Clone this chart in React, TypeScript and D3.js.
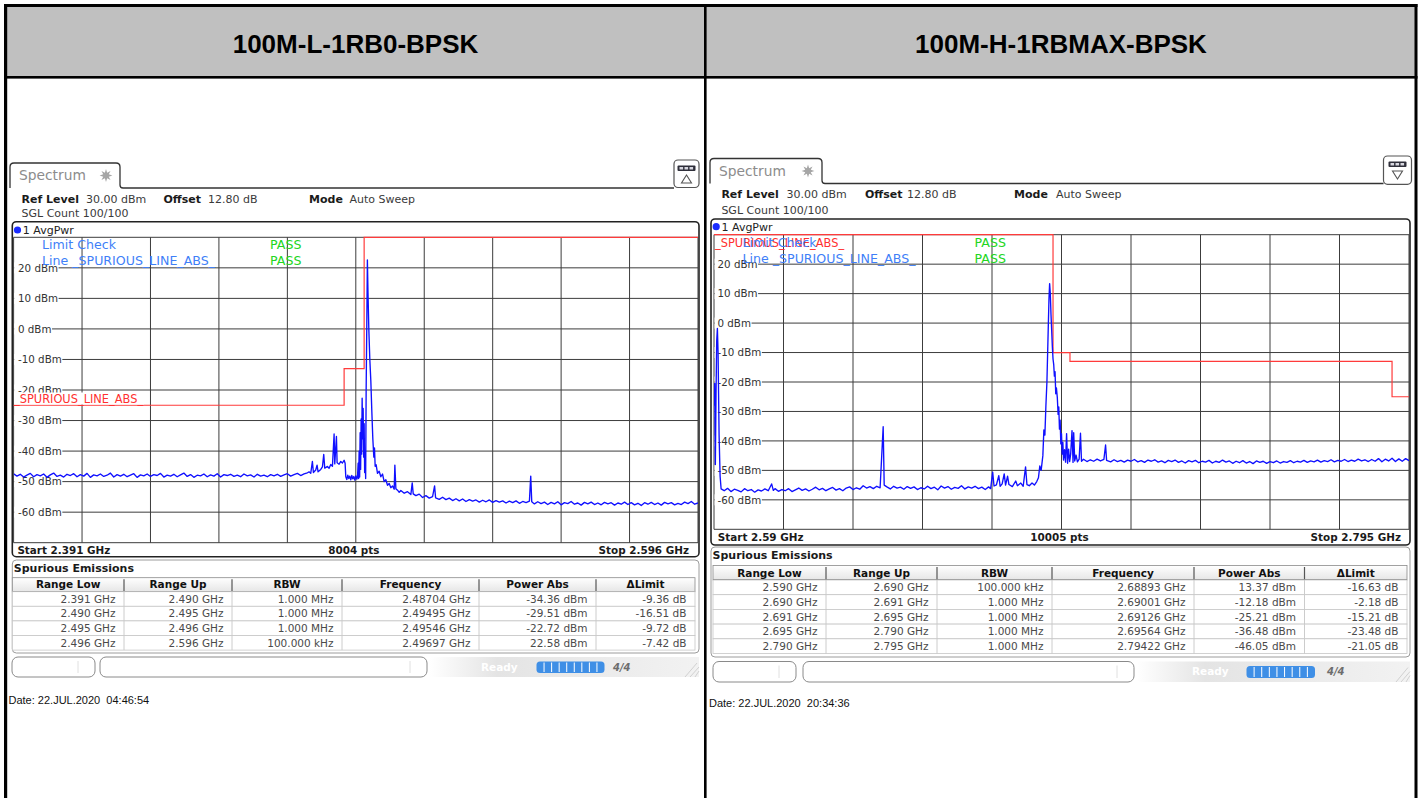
import React from 'react';
import * as d3 from 'd3';

// ------------------------------------------------------------------ data
const TITLES = ['100M-L-1RB0-BPSK', '100M-H-1RBMAX-BPSK'];
const Y_TICK_LABELS = [20, 10, 0, -10, -20, -30, -40, -50, -60];
const Y_RANGE = [-70, 30];
const TABLE_HEADERS = ['Range Low', 'Range Up', 'RBW', 'Frequency', 'Power Abs', '\u0394Limit'];
const SETTINGS = ['Ref Level', '30.00 dBm', 'Offset', '12.80 dB', 'Mode', 'Auto Sweep'];
const SGL_TEXT = 'SGL Count 100/100';
const TRACE_NAME = '1 AvgPwr';
const LIMIT_NAME = '_SPURIOUS_LINE_ABS_';
const LEGEND = ['Limit Check', 'Line _SPURIOUS_LINE_ABS_'];
const LEGEND_RESULT = ['PASS', 'PASS'];

const LEFT_SPAN_MHZ = [2391, 2596];
const RIGHT_SPAN_MHZ = [2590, 2795];
const LEFT_FOOTER = ['Start 2.391 GHz', '8004 pts', 'Stop 2.596 GHz'];
const RIGHT_FOOTER = ['Start 2.59 GHz', '10005 pts', 'Stop 2.795 GHz'];
const LEFT_DATE = 'Date: 22.JUL.2020  04:46:54';
const RIGHT_DATE = 'Date: 22.JUL.2020  20:34:36';

// limit lines [MHz, dBm]
const LEFT_LIMIT = [[2391, -25], [2490, -25], [2490, -13], [2496, -13], [2496, 30], [2596, 30]];
const RIGHT_LIMIT = [[2590, 30], [2690, 30], [2690, -10], [2695, -10], [2695, -13], [2790, -13], [2790, -25], [2795, -25]];

const LEFT_ROWS = [
  ['2.391 GHz', '2.490 GHz', '1.000 MHz', '2.48704 GHz', '-34.36 dBm', '-9.36 dB'],
  ['2.490 GHz', '2.495 GHz', '1.000 MHz', '2.49495 GHz', '-29.51 dBm', '-16.51 dB'],
  ['2.495 GHz', '2.496 GHz', '1.000 MHz', '2.49546 GHz', '-22.72 dBm', '-9.72 dB'],
  ['2.496 GHz', '2.596 GHz', '100.000 kHz', '2.49697 GHz', '22.58 dBm', '-7.42 dB'],
];
const RIGHT_ROWS = [
  ['2.590 GHz', '2.690 GHz', '100.000 kHz', '2.68893 GHz', '13.37 dBm', '-16.63 dB'],
  ['2.690 GHz', '2.691 GHz', '1.000 MHz', '2.69001 GHz', '-12.18 dBm', '-2.18 dB'],
  ['2.691 GHz', '2.695 GHz', '1.000 MHz', '2.69126 GHz', '-25.21 dBm', '-15.21 dB'],
  ['2.695 GHz', '2.790 GHz', '1.000 MHz', '2.69564 GHz', '-36.48 dBm', '-23.48 dB'],
  ['2.790 GHz', '2.795 GHz', '1.000 MHz', '2.79422 GHz', '-46.05 dBm', '-21.05 dB'],
];

// traces [MHz, dBm]
const LEFT_TRACE = [
  [2391,-47.4],[2392,-48.2],[2393,-47.6],[2394,-48.5],[2395,-47.9],[2396,-47.3],[2397,-48.4],[2398,-47.7],[2399,-48.1],[2400,-47.5],
  [2401,-48.6],[2402,-47.8],[2403,-47.2],[2404,-48.3],[2405,-47.9],[2406,-48.5],[2407,-47.6],[2408,-48.0],[2409,-47.4],[2410,-48.4],
  [2411,-47.7],[2412,-48.2],[2413,-47.3],[2414,-48.6],[2415,-47.8],[2416,-48.1],[2417,-47.5],[2418,-48.3],[2419,-47.9],[2420,-47.2],
  [2421,-48.5],[2422,-47.7],[2423,-48.2],[2424,-47.6],[2425,-48.4],[2426,-47.9],[2427,-47.4],[2428,-48.6],[2429,-47.8],[2430,-48.1],
  [2431,-47.5],[2432,-48.3],[2433,-47.7],[2434,-48.0],[2435,-47.3],[2436,-48.5],[2437,-47.9],[2438,-48.2],[2439,-47.6],[2440,-48.4],
  [2441,-47.8],[2442,-47.2],[2443,-48.3],[2444,-47.7],[2445,-48.6],[2446,-47.9],[2447,-48.1],[2448,-47.5],[2449,-48.4],[2450,-47.8],
  [2451,-48.2],[2452,-47.4],[2453,-48.5],[2454,-47.7],[2455,-48.0],[2456,-47.6],[2457,-48.3],[2458,-47.9],[2459,-48.4],[2460,-47.5],
  [2461,-48.1],[2462,-47.8],[2463,-48.5],[2464,-47.6],[2465,-48.2],[2466,-47.9],[2467,-48.4],[2468,-47.7],[2469,-48.1],[2470,-47.6],
  [2471,-48.3],[2472,-47.8],[2473,-47.4],[2474,-48.2],[2475,-47.7],[2476,-47.3],[2477,-48.0],[2478,-47.5],[2479,-47.1],
  [2479.5,-46.8],[2480,-47.3],[2480.5,-43.4],[2480.8,-47.0],[2481.5,-46.2],[2481.9,-44.6],[2482.2,-46.8],[2483,-46.0],[2483.5,-45.2],
  [2483.9,-41.1],[2484.2,-45.6],[2485,-45.0],[2485.5,-45.6],[2486,-44.4],[2486.5,-45.0],[2487,-34.4],[2487.2,-44.2],[2487.7,-35.2],
  [2487.9,-43.8],[2488.5,-44.3],[2489,-43.4],[2489.5,-43.9],[2490,-43.0],[2490.3,-44.0],
  [2490.5,-48.4],[2490.8,-49.3],[2491.1,-47.9],[2491.4,-49.0],[2491.7,-48.2],[2492,-49.4],[2492.3,-48.0],[2492.6,-49.1],[2492.9,-48.3],
  [2493.2,-49.5],[2493.5,-48.1],[2493.8,-49.2],[2494.0,-48.6],
  [2494.2,-44],[2494.35,-49],[2494.5,-40],[2494.65,-48.5],[2494.8,-34],[2494.95,-46],[2495.1,-29.5],[2495.25,-41],[2495.4,-22.7],
  [2495.55,-36],[2495.7,-26],[2495.85,-42],[2496,-31],[2496.15,-47],[2496.3,-40],[2496.45,-49],
  [2496.6,-20],[2496.8,2],[2496.97,22.6],[2497.15,12],[2497.4,0],[2497.7,-10],[2498,-17],[2498.3,-27],[2498.6,-36],[2498.9,-42],
  [2499.1,-39],[2499.3,-45],[2499.6,-44.5],[2500,-47.3],[2500.5,-46.6],[2501,-48.4],[2501.5,-47.5],[2502,-50.0],[2502.5,-49.4],
  [2503,-51.2],[2503.5,-50.6],[2504,-52.0],[2504.5,-51.4],[2505,-52.5],[2505.2,-44.6],[2505.5,-52.3],[2506,-52.8],[2506.5,-53.5],
  [2507,-52.9],[2508,-53.8],[2509,-53.3],[2510,-54.2],[2510.4,-50.4],[2510.7,-54.0],[2511.5,-54.6],[2512.5,-54.1],[2513.5,-55.2],
  [2514.5,-54.6],[2515.5,-55.4],[2516.5,-54.9],[2517.1,-51.4],[2517.4,-55.3],[2518.5,-55.8],[2519.5,-55.1],[2520.5,-55.9],
  [2521.5,-55.4],[2522.5,-56.2],[2523.5,-55.6],[2524.5,-56.3],[2525.5,-55.7],[2526.5,-56.5],[2527.5,-55.9],[2528.5,-56.4],
  [2529.5,-56.0],[2530.5,-56.7],[2531.5,-56.1],[2532.5,-56.6],[2533.5,-56.0],[2534.5,-56.8],[2535.5,-56.2],[2536.5,-56.7],
  [2537.5,-56.3],[2538.5,-57.0],[2539.5,-56.4],[2540.5,-56.9],[2541.5,-56.3],[2542.5,-57.1],[2543.5,-56.5],[2544.5,-56.9],
  [2545.5,-56.4],[2545.9,-48.2],[2546.2,-56.6],[2547,-57.3],[2548,-56.6],[2549,-57.2],[2550,-56.7],[2551,-57.5],[2552,-56.8],
  [2553,-57.3],[2554,-56.6],[2555,-57.6],[2556,-56.9],[2557,-57.2],[2558,-56.5],[2559,-57.4],[2560,-57.0],[2561,-57.7],[2562,-56.8],
  [2563,-57.3],[2564,-56.7],[2565,-57.5],[2566,-57.0],[2567,-57.6],[2568,-56.8],[2569,-57.3],[2570,-56.9],[2571,-57.7],[2572,-57.0],
  [2573,-57.4],[2574,-56.7],[2575,-57.5],[2576,-56.9],[2577,-57.6],[2578,-57.1],[2579,-57.8],[2580,-56.9],[2581,-57.4],[2582,-56.8],
  [2583,-57.5],[2584,-57.0],[2585,-57.7],[2586,-56.8],[2587,-57.3],[2588,-56.9],[2589,-57.6],[2590,-57.1],[2591,-57.5],[2592,-56.7],
  [2593,-57.2],[2594,-56.5],[2595,-57.4],[2596,-57.0],
];

const RIGHT_TRACE = [
  [2590.0,-28],[2590.2,-20.5],[2590.4,-48],[2590.6,-24],[2590.8,-6],[2591.0,-1.8],[2591.2,-10],[2591.5,-38],[2591.8,-52],[2592.1,-56.3],
  [2593,-56.9],[2594,-56.1],[2595,-57.2],[2596,-56.4],[2597,-56.8],[2598,-57.3],[2599,-56.2],[2600,-56.9],[2601,-56.5],[2602,-57.4],
  [2603,-56.6],[2604,-57.0],[2605,-56.3],[2606,-56.9],[2607,-54.6],[2607.5,-56.8],[2608,-56.2],[2609,-57.1],[2610,-56.5],[2611,-56.9],
  [2612,-56.2],[2613,-57.2],[2614,-56.6],[2615,-56.0],[2616,-56.8],[2617,-56.3],[2618,-57.0],[2619,-56.4],[2620,-55.7],[2621,-56.6],
  [2622,-56.1],[2623,-56.9],[2624,-56.3],[2625,-55.8],[2626,-56.7],[2627,-56.2],[2628,-56.9],[2629,-56.0],[2630,-55.6],[2631,-56.5],
  [2632,-55.9],[2633,-56.4],[2634,-55.2],[2635,-56.0],[2636,-55.5],[2637,-56.2],[2638,-55.4],[2639,-55.9],[2639.9,-35.2],[2640.2,-55.0],
  [2641,-55.6],[2642,-56.3],[2643,-55.4],[2644,-56.0],[2645,-55.7],[2646,-56.4],[2647,-55.5],[2648,-56.1],[2649,-55.6],[2650,-56.5],
  [2651,-55.9],[2652,-56.3],[2653,-55.4],[2654,-56.2],[2655,-55.7],[2656,-56.6],[2657,-55.3],[2658,-56.0],[2659,-55.5],[2660,-56.4],
  [2661,-55.8],[2662,-56.1],[2663,-55.2],[2664,-56.3],[2665,-55.6],[2666,-56.0],[2667,-55.4],[2668,-56.2],[2669,-55.7],[2670,-56.5],
  [2671,-55.6],[2671.6,-56.2],[2672.2,-50.6],[2672.6,-55.3],[2673.3,-54.9],[2674.0,-51.8],[2674.4,-55.4],[2675.0,-54.6],[2675.6,-51.2],
  [2676.0,-55.0],[2676.6,-52.0],[2677.0,-54.8],[2678,-55.5],[2679,-53.6],[2679.5,-55.2],[2680.5,-54.3],[2681.2,-55.4],[2681.9,-48.8],
  [2682.3,-54.8],[2683,-55.2],[2683.8,-54.3],[2684.5,-55.0],[2685.2,-53.8],[2685.7,-52.5],[2686.1,-48.5],[2686.5,-50],[2687.0,-45],
  [2687.3,-36.3],[2687.6,-38],[2687.9,-28],[2688.2,-20],[2688.5,-6],[2688.8,8],[2689.0,13.4],[2689.2,10],[2689.4,3],[2689.6,-2.4],
  [2689.8,-8],[2690.0,-12.2],[2690.2,-14],[2690.4,-18],[2690.6,-16.5],[2690.8,-24],[2691.0,-22],[2691.26,-25.2],[2691.5,-31],
  [2691.7,-28.5],[2691.9,-36],[2692.1,-33],[2692.3,-41],[2692.5,-37.5],[2692.7,-44.5],[2692.9,-40.5],[2693.1,-46.5],[2693.4,-43],
  [2693.7,-47.2],[2694.0,-37.5],[2694.3,-47.6],[2694.6,-42.8],[2694.9,-47.0],[2695.2,-44.5],[2695.6,-36.5],[2695.9,-47.3],
  [2696.1,-37.2],[2696.4,-46.8],[2696.8,-44.8],[2697.2,-47.1],[2697.7,-46.2],[2698.1,-37.4],[2698.4,-46.9],[2699,-46.2],[2700,-47.0],
  [2701,-46.4],[2702,-46.9],[2703,-46.2],[2704,-46.8],[2705,-46.3],[2705.5,-41.4],[2705.8,-46.6],[2707,-47.1],
  [2708,-46.4],[2709,-47.0],[2710,-46.6],[2711,-47.2],[2712,-46.5],[2713,-46.9],[2714,-46.3],[2715,-47.1],[2716,-46.7],[2717,-47.3],
  [2718,-46.5],[2719,-46.9],[2720,-46.4],[2721,-47.2],[2722,-46.8],[2723,-47.4],[2724,-46.6],[2725,-47.0],[2726,-46.5],[2727,-47.3],
  [2728,-46.8],[2729,-47.5],[2730,-46.7],[2731,-47.1],[2732,-46.6],[2733,-47.4],[2734,-46.9],[2735,-47.2],[2736,-46.6],[2737,-47.5],
  [2738,-46.9],[2739,-47.3],[2740,-46.5],[2741,-47.2],[2742,-46.8],[2743,-47.6],[2744,-46.9],[2745,-47.4],[2746,-46.7],[2747,-47.5],
  [2748,-47.0],[2749,-47.7],[2750,-46.8],[2751,-47.3],[2752,-46.9],[2753,-47.6],[2754,-47.0],[2755,-47.4],[2756,-46.8],[2757,-47.5],
  [2758,-47.0],[2759,-47.3],[2760,-46.7],[2761,-47.4],[2762,-46.9],[2763,-47.2],[2764,-46.6],[2765,-47.3],[2766,-46.8],[2767,-47.1],
  [2768,-46.5],[2769,-47.2],[2770,-46.7],[2771,-47.0],[2772,-46.4],[2773,-47.1],[2774,-46.6],[2775,-46.9],[2776,-46.3],[2777,-47.0],
  [2778,-46.5],[2779,-46.9],[2780,-46.2],[2781,-46.8],[2782,-46.4],[2783,-47.0],[2784,-46.3],[2785,-46.9],[2786,-46.0],[2787,-47.1],
  [2788,-46.2],[2789,-46.8],[2790,-45.9],[2791,-47.0],[2792,-46.1],[2793,-46.9],[2794,-46.0],[2795,-46.7],
];

// ------------------------------------------------------------------ layout
const LEFT_LAYOUT = {
  tab: [10, 120, 163, 188], icon: [674, 699, 160, 187.5], iconDown: false,
  infoY: [199, 213], infoX: [21.5, 86, 163.5, 208, 309, 349.5],
  frame: [12.3, 699, 221.7, 556.7], avgY: 230,
  grid: [13.6, 698, 237.3, 542.7], labelX: 18,
  legX: 42, passX: 270, legY: [245, 261],
  redLabel: [14, 399], redBg: true,
  footY: 550, stopPad: 9,
  spur: [12.3, 699, 560, 653], spurTitleY: 568.3, head: [577.7, 591.7], rowH: 14.6,
  cols: [12.3, 124, 232, 342, 479, 596, 695],
  bar: [657, 677], box1: [12, 95], box2: [100, 427], readyX: 481, prog: [536.5, 604.5], badgeX: 613,
  dateX: 8.5, dateY: 700,
};
const RIGHT_LAYOUT = {
  tab: [710, 822, 158.5, 183.5], icon: [1383.5, 1411.5, 156, 184.3], iconDown: true,
  infoY: [194.5, 210], infoX: [721.4, 786.5, 865, 907, 1014, 1056],
  frame: [711, 1410, 219, 545], avgY: 226.7,
  grid: [714, 1409, 234.7, 529.3], labelX: 717.5,
  legX: 742.5, passX: 974.5, legY: [242.7, 258.3],
  redLabel: [715, 242.7], redBg: false,
  footY: 537.3, stopPad: 8,
  spur: [711, 1410, 547, 657], spurTitleY: 555.5, head: [565.5, 580], rowH: 14.7,
  cols: [713, 826, 937, 1052, 1194, 1304.5, 1407],
  bar: [661.5, 682], box1: [713, 796], box2: [803, 1134], readyX: 1192, prog: [1246.5, 1315], badgeX: 1327,
  dateX: 709, dateY: 703.3,
};

const UI_FONT = 'DejaVu Sans, Verdana, sans-serif';

let measureCtx: any = null;
function measure(text: string, font: string) {
  if (typeof document === 'undefined') return text.length * 6;
  if (!measureCtx) measureCtx = document.createElement('canvas').getContext('2d');
  measureCtx.font = font;
  return measureCtx.measureText(text).width;
}

function Panel({ id, L, span, trace, limit, rows, footer, date }: any) {
  const [gx0, gx1, gy0, gy1] = L.grid;
  const x = d3.scaleLinear().domain(span).range([gx0, gx1]);
  const y = d3.scaleLinear().domain(Y_RANGE).range([gy1, gy0]);
  const line = d3.line<any>().x((d: any) => x(d[0])).y((d: any) => y(d[1]));
  const vDivs = d3.range(11).map((i) => span[0] + (i * (span[1] - span[0])) / 10);
  const hDivs = d3.range(Y_RANGE[0], Y_RANGE[1] + 1, 10);
  const [tx0, tx1, ty0, ty1] = L.tab;
  const [ix0, ix1, iy0, iy1] = L.icon;
  const icx = (ix0 + ix1) / 2;
  const [fx0, fx1, fy0, fy1] = L.frame;
  const [sx0, sx1, sy0, sy1] = L.spur;
  const [hy0, hy1] = L.head;
  const cols = L.cols;
  const [by0, by1] = L.bar;
  const labelFont = `10.3px DejaVu Sans`;
  const redW = measure(LIMIT_NAME, '11.4px DejaVu Sans');
  const segs = d3.range(1, 9);
  const progW = L.prog[1] - L.prog[0];

  return (
    <g fontFamily={UI_FONT}>
      <defs>
        <clipPath id={`clip-${id}`}>
          <rect x={gx0} y={gy0 - 1} width={gx1 - gx0} height={gy1 - gy0 + 2} />
        </clipPath>
        <linearGradient id={`hg-${id}`} x1="0" x2="0" y1="0" y2="1">
          <stop offset="0" stopColor="#ffffff" />
          <stop offset="1" stopColor="#e6e6e6" />
        </linearGradient>
        <linearGradient id={`rg-${id}`} x1="0" x2="1" y1="0" y2="0">
          <stop offset="0" stopColor="#ffffff" />
          <stop offset="0.25" stopColor="#e4e4e4" />
          <stop offset="1" stopColor="#f2f2f2" />
        </linearGradient>
      </defs>

      {/* tab */}
      <path
        d={`M${tx0},${ty1} V${ty0 + 4} Q${tx0},${ty0} ${tx0 + 4},${ty0} H${tx1 - 4} Q${tx1},${ty0} ${tx1},${ty0 + 4} V${ty1 - 3} Q${tx1},${ty1} ${tx1 + 3},${ty1} H${ix0}`}
        fill="none" stroke="#333" strokeWidth={1.3}
      />
      <text x={tx0 + 9} y={ty0 + 17} fontSize={13.8} fill="#8c8c8c">Spectrum</text>
      <path
        d={d3.range(16).map((i) => {
          const r = i % 2 === 0 ? 6.4 : 3;
          const a = (i * Math.PI) / 8;
          return `${i === 0 ? 'M' : 'L'}${tx1 - 14 + r * Math.sin(a)},${ty0 + 12.5 - r * Math.cos(a)}`;
        }).join('') + 'Z'}
        fill="#a6a6a6"
      />
      {/* icon */}
      <rect x={ix0} y={iy0} width={ix1 - ix0} height={iy1 - iy0} rx={4} fill="#fff" stroke="#555" strokeWidth={1.2} />
      <rect x={icx - 9} y={iy0 + 5.5} width={18} height={5.5} rx={1} fill="#2f2f3a" />
      {[0, 1, 2].map((k) => (
        <rect key={k} x={icx - 7 + k * 5} y={iy0 + 7} width={3.6} height={2.5} fill="#d8d8e0" />
      ))}
      <path
        d={L.iconDown
          ? `M${icx - 5},${iy0 + 15} H${icx + 5} L${icx},${iy0 + 23} Z`
          : `M${icx},${iy0 + 15} L${icx + 5},${iy0 + 23} H${icx - 5} Z`}
        fill="none" stroke="#555" strokeWidth={1.1}
      />

      {/* settings */}
      {SETTINGS.map((s, i) => (
        <text key={i} x={L.infoX[i]} y={L.infoY[0]} dy="0.35em" fontSize={11}
          fontWeight={i % 2 === 0 ? 'bold' : 'normal'} fill={i % 2 === 0 ? '#1a1a1a' : '#3a3a3a'}>{s}</text>
      ))}
      <text x={L.infoX[0]} y={L.infoY[1]} dy="0.35em" fontSize={11} fill="#3a3a3a">{SGL_TEXT}</text>

      {/* diagram frame */}
      <rect x={fx0} y={fy0} width={fx1 - fx0} height={fy1 - fy0} rx={4} fill="none" stroke="#222" strokeWidth={1.6} />
      <circle cx={fx0 + 5.2} cy={L.avgY} r={3.6} fill="#1a2cff" />
      <text x={fx0 + 10.5} y={L.avgY} dy="0.35em" fontSize={11} fill="#222">{TRACE_NAME}</text>

      {/* grid */}
      {vDivs.map((f, i) => (
        <line key={`v${i}`} x1={x(f)} x2={x(f)} y1={gy0} y2={gy1} stroke="#3c3c3c" strokeWidth={1} />
      ))}
      {hDivs.map((v, i) => (
        <line key={`h${i}`} x1={gx0} x2={gx1} y1={y(v)} y2={y(v)} stroke="#3c3c3c" strokeWidth={1} />
      ))}
      {Y_TICK_LABELS.map((v) => {
        const t = `${v} dBm`;
        const w = measure(t, labelFont);
        return (
          <g key={`yl${v}`}>
            <rect x={gx0 + 0.6} y={y(v) - 5.5} width={L.labelX - gx0 + w} height={11} fill="#fff" />
            <text x={L.labelX} y={y(v)} dy="0.36em" fontSize={10.3} fill="#333">{t}</text>
          </g>
        );
      })}

      {/* limit line */}
      <path d={line(limit) || ''} fill="none" stroke="#ff3b3b" strokeWidth={1.2} />
      {L.redBg && (
        <rect x={L.redLabel[0]} y={L.redLabel[1] - 6.5} width={redW + 1} height={12} fill="#fff" />
      )}
      <text x={L.redLabel[0]} y={L.redLabel[1]} dy="0.35em" fontSize={11.4} fill="#ff3030">{LIMIT_NAME}</text>

      {/* legend */}
      {LEGEND.map((t, i) => (
        <g key={`lg${i}`}>
          <text x={L.legX} y={L.legY[i]} dy="0.35em" fontSize={12.6} fill="#3f7ff8">{t}</text>
          <text x={L.passX} y={L.legY[i]} dy="0.35em" fontSize={12.6} fill="#22d622">{LEGEND_RESULT[i]}</text>
        </g>
      ))}

      {/* trace */}
      <path d={line(trace) || ''} fill="none" stroke="#1010ff" strokeWidth={1.35}
        strokeLinejoin="round" clipPath={`url(#clip-${id})`} />

      {/* footer */}
      <text x={gx0 + 3.8} y={L.footY} dy="0.35em" fontSize={10.4} fontWeight="bold" fill="#1a1a1a">{footer[0]}</text>
      <text x={(gx0 + gx1) / 2 - 2} y={L.footY} dy="0.35em" fontSize={10.4} fontWeight="bold" fill="#1a1a1a" textAnchor="middle">{footer[1]}</text>
      <text x={gx1 - L.stopPad} y={L.footY} dy="0.35em" fontSize={10.4} fontWeight="bold" fill="#1a1a1a" textAnchor="end">{footer[2]}</text>

      {/* spurious emissions table */}
      <rect x={sx0} y={sy0} width={sx1 - sx0} height={sy1 - sy0} rx={4} fill="#fff" stroke="#9c9c9c" strokeWidth={1} />
      <text x={sx0 + 1.5} y={L.spurTitleY} dy="0.35em" fontSize={11} fontWeight="bold" fill="#1a1a1a">Spurious Emissions</text>
      <rect x={cols[0]} y={hy0} width={cols[6] - cols[0]} height={hy1 - hy0} fill={`url(#hg-${id})`} stroke="#8a8a8a" strokeWidth={0.8} />
      <line x1={cols[0]} x2={cols[6]} y1={hy1} y2={hy1} stroke="#555" strokeWidth={1} />
      {cols.slice(1, 6).map((c: number, j: number) => (
        <line key={`hc${j}`} x1={c} x2={c} y1={hy0 + 1.5} y2={hy1 - 0.5} stroke="#555" strokeWidth={1.2} />
      ))}
      {TABLE_HEADERS.map((h, j) => (
        <text key={`hh${j}`} x={(cols[j] + cols[j + 1]) / 2} y={(hy0 + hy1) / 2} dy="0.36em" fontSize={10.5}
          fontWeight="bold" fill="#111" textAnchor="middle">{h}</text>
      ))}
      {rows.map((r: string[], i: number) => {
        const ry0 = hy1 + i * L.rowH;
        return (
          <g key={`row${i}`}>
            <rect x={cols[0]} y={ry0} width={cols[6] - cols[0]} height={L.rowH} fill="#fff" stroke="#c6c6c6" strokeWidth={0.8} />
            {cols.slice(1, 6).map((c: number, j: number) => (
              <line key={`rc${j}`} x1={c} x2={c} y1={ry0} y2={ry0 + L.rowH} stroke="#c6c6c6" strokeWidth={0.9} />
            ))}
            {r.map((v, j) => (
              <text key={`rv${j}`} x={cols[j + 1] - 8.5} y={ry0 + L.rowH / 2} dy="0.36em" fontSize={10.5}
                fill="#4a4a4a" textAnchor="end">{v}</text>
            ))}
          </g>
        );
      })}

      {/* status bar */}
      <rect x={L.box2[1] + 3} y={by0} width={sx1 - L.box2[1] - 3} height={by1 - by0} fill={`url(#rg-${id})`} />
      <text x={L.readyX} y={(by0 + by1) / 2} dy="0.35em" fontSize={10.5} fontWeight="bold" fill="#ffffff">Ready</text>
      {[0, 1, 2].map((k) => (
        <line key={`dg${k}`} x1={sx1 - 14 + k * 5} y1={by1} x2={sx1 - 2 + k * 5 > sx1 ? sx1 : sx1 - 2 + k * 5} y2={by0 + 6 + k * 4}
          stroke="#c8c8c8" strokeWidth={0.8} />
      ))}
      <rect x={L.box1[0]} y={by0} width={L.box1[1] - L.box1[0]} height={by1 - by0} rx={6} fill="#fff" stroke="#8a8a8a" strokeWidth={1} />
      <line x1={L.box1[1] - 17} x2={L.box1[1] - 17} y1={by0 + 4} y2={by1 - 4} stroke="#e0e0e0" />
      <rect x={L.box2[0]} y={by0} width={L.box2[1] - L.box2[0]} height={by1 - by0} rx={6} fill="#fff" stroke="#8a8a8a" strokeWidth={1} />
      <line x1={L.box2[1] - 17} x2={L.box2[1] - 17} y1={by0 + 4} y2={by1 - 4} stroke="#e0e0e0" />
      <rect x={L.prog[0]} y={by0 + 4.5} width={progW} height={by1 - by0 - 8.5} rx={3.5} fill="#3f8fe6" />
      {segs.map((k) => (
        <line key={`sg${k}`} x1={L.prog[0] + (k * progW) / 9} x2={L.prog[0] + (k * progW) / 9}
          y1={by0 + 5.5} y2={by1 - 5} stroke="#ffffff" strokeWidth={1} />
      ))}
      <text x={L.badgeX} y={(by0 + by1) / 2} dy="0.35em" fontSize={10} fontWeight="bold" fontStyle="italic" fill="#6d6d6d">4/4</text>

      {/* date */}
      <text x={L.dateX} y={L.dateY} dy="0.35em" fontSize={11} fill="#111"
        fontFamily="Liberation Sans, Arial, sans-serif" style={{ whiteSpace: 'pre' }}>{date}</text>
    </g>
  );
}

export default function App() {
  const W = 1421;
  const H = 798;
  return (
    <svg width={W} height={H} viewBox={`0 0 ${W} ${H}`}
      style={{ position: 'absolute', left: 0, top: 0, background: '#fff' }}>
      <rect x={0} y={0} width={W} height={H} fill="#fff" />
      {/* header */}
      <rect x={6} y={6} width={1410} height={71} fill="#c0c0c0" />
      {TITLES.map((t, i) => (
        <text key={t} x={i === 0 ? 355.5 : 1061} y={44} dy="0.36em" textAnchor="middle"
          fontFamily="Liberation Sans, Arial, sans-serif" fontWeight="bold" fontSize={26} fill="#000">{t}</text>
      ))}

      <Panel id="L" L={LEFT_LAYOUT} span={LEFT_SPAN_MHZ} trace={LEFT_TRACE} limit={LEFT_LIMIT}
        rows={LEFT_ROWS} footer={LEFT_FOOTER} date={LEFT_DATE} />
      <Panel id="R" L={RIGHT_LAYOUT} span={RIGHT_SPAN_MHZ} trace={RIGHT_TRACE} limit={RIGHT_LIMIT}
        rows={RIGHT_ROWS} footer={RIGHT_FOOTER} date={RIGHT_DATE} />

      {/* table borders */}
      <rect x={4} y={4} width={1413.5} height={3} fill="#000" />
      <rect x={4} y={4} width={3.2} height={H} fill="#000" />
      <rect x={704} y={4} width={2.6} height={H} fill="#000" />
      <rect x={1414.5} y={4} width={3} height={H} fill="#000" />
      <rect x={4} y={76} width={1413.5} height={2.6} fill="#000" />
    </svg>
  );
}
